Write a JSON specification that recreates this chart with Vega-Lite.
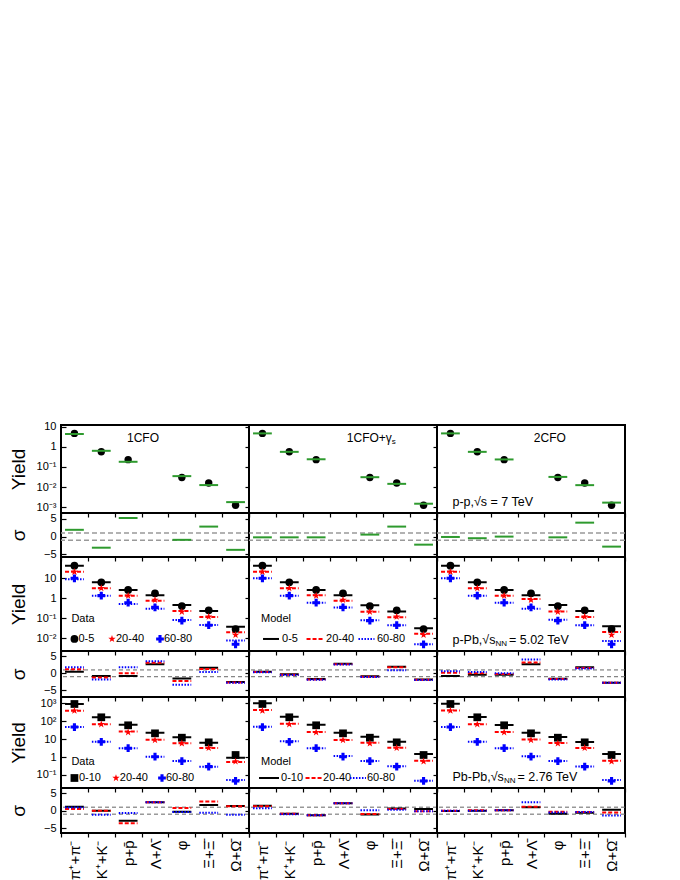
{
  "$schema": "https://vega.github.io/schema/vega-lite/v6.json",
  "padding": {"left": 8, "top": 419, "right": 5, "bottom": 5},
  "background": "white",
  "datasets": {
    "ppd": [
      {"p": "π⁺+π⁻", "y": 4.6}, {"p": "K⁺+K⁻", "y": 0.57}, {"p": "p+p̄", "y": 0.23},
      {"p": "φ", "y": 0.030}, {"p": "Ξ+Ξ̄", "y": 0.016}, {"p": "Ω+Ω̄", "y": 0.00125}
    ],
    "ppm": [
      {"m": "1CFO", "p": "π⁺+π⁻", "y": 4.3, "s": 1.9}, {"m": "1CFO", "p": "K⁺+K⁻", "y": 0.63, "s": -3.1},
      {"m": "1CFO", "p": "p+p̄", "y": 0.18, "s": 5.2}, {"m": "1CFO", "p": "φ", "y": 0.035, "s": -0.9},
      {"m": "1CFO", "p": "Ξ+Ξ̄", "y": 0.0126, "s": 2.8}, {"m": "1CFO", "p": "Ω+Ω̄", "y": 0.0018, "s": -3.7},
      {"m": "1CFOg", "p": "π⁺+π⁻", "y": 4.6, "s": -0.2}, {"m": "1CFOg", "p": "K⁺+K⁻", "y": 0.56, "s": -0.2},
      {"m": "1CFOg", "p": "p+p̄", "y": 0.24, "s": -0.2}, {"m": "1CFOg", "p": "φ", "y": 0.031, "s": 0.56},
      {"m": "1CFOg", "p": "Ξ+Ξ̄", "y": 0.0145, "s": 2.8}, {"m": "1CFOg", "p": "Ω+Ω̄", "y": 0.0015, "s": -2.25},
      {"m": "2CFO", "p": "π⁺+π⁻", "y": 4.6, "s": -0.1}, {"m": "2CFO", "p": "K⁺+K⁻", "y": 0.56, "s": -0.45},
      {"m": "2CFO", "p": "p+p̄", "y": 0.235, "s": 0}, {"m": "2CFO", "p": "φ", "y": 0.032, "s": -0.2},
      {"m": "2CFO", "p": "Ξ+Ξ̄", "y": 0.0125, "s": 3.9}, {"m": "2CFO", "p": "Ω+Ω̄", "y": 0.0017, "s": -2.8}
    ],
    "ppbd": [
      {"p": "π⁺+π⁻", "c": "0-5", "y": 42.7}, {"p": "π⁺+π⁻", "c": "20-40", "y": 21}, {"p": "π⁺+π⁻", "c": "60-80", "y": 10},
      {"p": "K⁺+K⁻", "c": "0-5", "y": 6.3}, {"p": "K⁺+K⁻", "c": "20-40", "y": 3.2}, {"p": "K⁺+K⁻", "c": "60-80", "y": 1.35},
      {"p": "p+p̄", "c": "0-5", "y": 2.6}, {"p": "p+p̄", "c": "20-40", "y": 1.35}, {"p": "p+p̄", "c": "60-80", "y": 0.6},
      {"p": "Λ+Λ̄", "c": "0-5", "y": 1.78}, {"p": "Λ+Λ̄", "c": "20-40", "y": 0.82}, {"p": "Λ+Λ̄", "c": "60-80", "y": 0.35},
      {"p": "φ", "c": "0-5", "y": 0.41}, {"p": "φ", "c": "20-40", "y": 0.21}, {"p": "φ", "c": "60-80", "y": 0.076},
      {"p": "Ξ+Ξ̄", "c": "0-5", "y": 0.25}, {"p": "Ξ+Ξ̄", "c": "20-40", "y": 0.12}, {"p": "Ξ+Ξ̄", "c": "60-80", "y": 0.045},
      {"p": "Ω+Ω̄", "c": "0-5", "y": 0.029}, {"p": "Ω+Ω̄", "c": "20-40", "y": 0.0146}, {"p": "Ω+Ω̄", "c": "60-80", "y": 0.005}
    ],
    "ppbm": [
      {"m": "1CFO", "p": "π⁺+π⁻", "c": "0-5", "y": 42.7, "s": 0.47}, {"m": "1CFO", "p": "π⁺+π⁻", "c": "20-40", "y": 21, "s": 1.2}, {"m": "1CFO", "p": "π⁺+π⁻", "c": "60-80", "y": 8.9, "s": 1.8},
      {"m": "1CFO", "p": "K⁺+K⁻", "c": "0-5", "y": 6.3, "s": -0.8}, {"m": "1CFO", "p": "K⁺+K⁻", "c": "20-40", "y": 3.2, "s": -1.2}, {"m": "1CFO", "p": "K⁺+K⁻", "c": "60-80", "y": 1.35, "s": -1.8},
      {"m": "1CFO", "p": "p+p̄", "c": "0-5", "y": 2.6, "s": -0.8}, {"m": "1CFO", "p": "p+p̄", "c": "20-40", "y": 1.35, "s": 0}, {"m": "1CFO", "p": "p+p̄", "c": "60-80", "y": 0.52, "s": 1.8},
      {"m": "1CFO", "p": "Λ+Λ̄", "c": "0-5", "y": 1.41, "s": 2.7}, {"m": "1CFO", "p": "Λ+Λ̄", "c": "20-40", "y": 0.76, "s": 3.1}, {"m": "1CFO", "p": "Λ+Λ̄", "c": "60-80", "y": 0.30, "s": 3.6},
      {"m": "1CFO", "p": "φ", "c": "0-5", "y": 0.46, "s": -1.5}, {"m": "1CFO", "p": "φ", "c": "20-40", "y": 0.23, "s": -2.3}, {"m": "1CFO", "p": "φ", "c": "60-80", "y": 0.082, "s": -3.4},
      {"m": "1CFO", "p": "Ξ+Ξ̄", "c": "0-5", "y": 0.23, "s": 1.65}, {"m": "1CFO", "p": "Ξ+Ξ̄", "c": "20-40", "y": 0.116, "s": 1.3}, {"m": "1CFO", "p": "Ξ+Ξ̄", "c": "60-80", "y": 0.046, "s": 0.4},
      {"m": "1CFO", "p": "Ω+Ω̄", "c": "0-5", "y": 0.038, "s": -2.6}, {"m": "1CFO", "p": "Ω+Ω̄", "c": "20-40", "y": 0.02, "s": -2.7}, {"m": "1CFO", "p": "Ω+Ω̄", "c": "60-80", "y": 0.0076, "s": -2.8},
      {"m": "1CFOg", "p": "π⁺+π⁻", "c": "0-5", "y": 42.7, "s": 0.5}, {"m": "1CFOg", "p": "π⁺+π⁻", "c": "20-40", "y": 21, "s": 0.4}, {"m": "1CFOg", "p": "π⁺+π⁻", "c": "60-80", "y": 10, "s": 0.3},
      {"m": "1CFOg", "p": "K⁺+K⁻", "c": "0-5", "y": 6.3, "s": -0.3}, {"m": "1CFOg", "p": "K⁺+K⁻", "c": "20-40", "y": 3.2, "s": -0.4}, {"m": "1CFOg", "p": "K⁺+K⁻", "c": "60-80", "y": 1.35, "s": -0.5},
      {"m": "1CFOg", "p": "p+p̄", "c": "0-5", "y": 2.6, "s": -1.7}, {"m": "1CFOg", "p": "p+p̄", "c": "20-40", "y": 1.41, "s": -1.8}, {"m": "1CFOg", "p": "p+p̄", "c": "60-80", "y": 0.6, "s": -1.9},
      {"m": "1CFOg", "p": "Λ+Λ̄", "c": "0-5", "y": 1.41, "s": 2.8}, {"m": "1CFOg", "p": "Λ+Λ̄", "c": "20-40", "y": 0.76, "s": 2.7}, {"m": "1CFOg", "p": "Λ+Λ̄", "c": "60-80", "y": 0.35, "s": 2.6},
      {"m": "1CFOg", "p": "φ", "c": "0-5", "y": 0.45, "s": -0.9}, {"m": "1CFOg", "p": "φ", "c": "20-40", "y": 0.21, "s": -1.0}, {"m": "1CFOg", "p": "φ", "c": "60-80", "y": 0.079, "s": -1.1},
      {"m": "1CFOg", "p": "Ξ+Ξ̄", "c": "0-5", "y": 0.22, "s": 1.95}, {"m": "1CFOg", "p": "Ξ+Ξ̄", "c": "20-40", "y": 0.112, "s": 1.8}, {"m": "1CFOg", "p": "Ξ+Ξ̄", "c": "60-80", "y": 0.045, "s": 0.9},
      {"m": "1CFOg", "p": "Ω+Ω̄", "c": "0-5", "y": 0.032, "s": -1.8}, {"m": "1CFOg", "p": "Ω+Ω̄", "c": "20-40", "y": 0.017, "s": -1.9}, {"m": "1CFOg", "p": "Ω+Ω̄", "c": "60-80", "y": 0.005, "s": -2.0},
      {"m": "2CFO", "p": "π⁺+π⁻", "c": "0-5", "y": 42.7, "s": -0.8}, {"m": "2CFO", "p": "π⁺+π⁻", "c": "20-40", "y": 21, "s": 0.2}, {"m": "2CFO", "p": "π⁺+π⁻", "c": "60-80", "y": 10, "s": 0.6},
      {"m": "2CFO", "p": "K⁺+K⁻", "c": "0-5", "y": 6.3, "s": -0.4}, {"m": "2CFO", "p": "K⁺+K⁻", "c": "20-40", "y": 3.2, "s": 0}, {"m": "2CFO", "p": "K⁺+K⁻", "c": "60-80", "y": 1.35, "s": 0.4},
      {"m": "2CFO", "p": "p+p̄", "c": "0-5", "y": 2.6, "s": -0.4}, {"m": "2CFO", "p": "p+p̄", "c": "20-40", "y": 1.35, "s": -0.2}, {"m": "2CFO", "p": "p+p̄", "c": "60-80", "y": 0.6, "s": 0},
      {"m": "2CFO", "p": "Λ+Λ̄", "c": "0-5", "y": 1.41, "s": 2.7}, {"m": "2CFO", "p": "Λ+Λ̄", "c": "20-40", "y": 0.92, "s": 3.2}, {"m": "2CFO", "p": "Λ+Λ̄", "c": "60-80", "y": 0.30, "s": 4.1},
      {"m": "2CFO", "p": "φ", "c": "0-5", "y": 0.46, "s": -1.6}, {"m": "2CFO", "p": "φ", "c": "20-40", "y": 0.22, "s": -1.7}, {"m": "2CFO", "p": "φ", "c": "60-80", "y": 0.085, "s": -1.8},
      {"m": "2CFO", "p": "Ξ+Ξ̄", "c": "0-5", "y": 0.23, "s": 1.8}, {"m": "2CFO", "p": "Ξ+Ξ̄", "c": "20-40", "y": 0.116, "s": 1.6}, {"m": "2CFO", "p": "Ξ+Ξ̄", "c": "60-80", "y": 0.045, "s": 1.4},
      {"m": "2CFO", "p": "Ω+Ω̄", "c": "0-5", "y": 0.04, "s": -2.8}, {"m": "2CFO", "p": "Ω+Ω̄", "c": "20-40", "y": 0.0207, "s": -2.8}, {"m": "2CFO", "p": "Ω+Ω̄", "c": "60-80", "y": 0.0073, "s": -2.8}
    ],
    "pbd": [
      {"p": "π⁺+π⁻", "c": "0-10", "y": 912}, {"p": "π⁺+π⁻", "c": "20-40", "y": 388}, {"p": "π⁺+π⁻", "c": "60-80", "y": 47},
      {"p": "K⁺+K⁻", "c": "0-10", "y": 165}, {"p": "K⁺+K⁻", "c": "20-40", "y": 67}, {"p": "K⁺+K⁻", "c": "60-80", "y": 7.1},
      {"p": "p+p̄", "c": "0-10", "y": 59}, {"p": "p+p̄", "c": "20-40", "y": 24}, {"p": "p+p̄", "c": "60-80", "y": 3.1},
      {"p": "Λ+Λ̄", "c": "0-10", "y": 21}, {"p": "Λ+Λ̄", "c": "20-40", "y": 8.9}, {"p": "Λ+Λ̄", "c": "60-80", "y": 1.04},
      {"p": "φ", "c": "0-10", "y": 12}, {"p": "φ", "c": "20-40", "y": 5.8}, {"p": "φ", "c": "60-80", "y": 0.6},
      {"p": "Ξ+Ξ̄", "c": "0-10", "y": 6.6}, {"p": "Ξ+Ξ̄", "c": "20-40", "y": 3.2}, {"p": "Ξ+Ξ̄", "c": "60-80", "y": 0.29},
      {"p": "Ω+Ω̄", "c": "0-10", "y": 1.3}, {"p": "Ω+Ω̄", "c": "20-40", "y": 0.57}, {"p": "Ω+Ω̄", "c": "60-80", "y": 0.046}
    ],
    "pbm": [
      {"m": "1CFO", "p": "π⁺+π⁻", "c": "0-10", "y": 912, "s": 1.1}, {"m": "1CFO", "p": "π⁺+π⁻", "c": "20-40", "y": 388, "s": 0.5}, {"m": "1CFO", "p": "π⁺+π⁻", "c": "60-80", "y": 47, "s": 0.9},
      {"m": "1CFO", "p": "K⁺+K⁻", "c": "0-10", "y": 165, "s": 0}, {"m": "1CFO", "p": "K⁺+K⁻", "c": "20-40", "y": 67, "s": 0}, {"m": "1CFO", "p": "K⁺+K⁻", "c": "60-80", "y": 7.1, "s": -1.2},
      {"m": "1CFO", "p": "p+p̄", "c": "0-10", "y": 64, "s": -2.9}, {"m": "1CFO", "p": "p+p̄", "c": "20-40", "y": 27, "s": -3.6}, {"m": "1CFO", "p": "p+p̄", "c": "60-80", "y": 3.1, "s": -0.7},
      {"m": "1CFO", "p": "Λ+Λ̄", "c": "0-10", "y": 23, "s": 2.4}, {"m": "1CFO", "p": "Λ+Λ̄", "c": "20-40", "y": 9.3, "s": 2.4}, {"m": "1CFO", "p": "Λ+Λ̄", "c": "60-80", "y": 1.04, "s": 2.4},
      {"m": "1CFO", "p": "φ", "c": "0-10", "y": 12.6, "s": -0.3}, {"m": "1CFO", "p": "φ", "c": "20-40", "y": 5.8, "s": 0.8}, {"m": "1CFO", "p": "φ", "c": "60-80", "y": 0.6, "s": -0.4},
      {"m": "1CFO", "p": "Ξ+Ξ̄", "c": "0-10", "y": 6.3, "s": 1.6}, {"m": "1CFO", "p": "Ξ+Ξ̄", "c": "20-40", "y": 3.2, "s": 2.6}, {"m": "1CFO", "p": "Ξ+Ξ̄", "c": "60-80", "y": 0.29, "s": -0.6},
      {"m": "1CFO", "p": "Ω+Ω̄", "c": "0-10", "y": 0.91, "s": 1.35}, {"m": "1CFO", "p": "Ω+Ω̄", "c": "20-40", "y": 0.52, "s": 1.3}, {"m": "1CFO", "p": "Ω+Ω̄", "c": "60-80", "y": 0.052, "s": -1.2},
      {"m": "1CFOg", "p": "π⁺+π⁻", "c": "0-10", "y": 1000, "s": 1.4}, {"m": "1CFOg", "p": "π⁺+π⁻", "c": "20-40", "y": 423, "s": 1.3}, {"m": "1CFOg", "p": "π⁺+π⁻", "c": "60-80", "y": 49, "s": 0.7},
      {"m": "1CFOg", "p": "K⁺+K⁻", "c": "0-10", "y": 178, "s": -0.9}, {"m": "1CFOg", "p": "K⁺+K⁻", "c": "20-40", "y": 72, "s": -0.9}, {"m": "1CFOg", "p": "K⁺+K⁻", "c": "60-80", "y": 7.6, "s": -1.0},
      {"m": "1CFOg", "p": "p+p̄", "c": "0-10", "y": 64, "s": -1.3}, {"m": "1CFOg", "p": "p+p̄", "c": "20-40", "y": 25, "s": -1.3}, {"m": "1CFOg", "p": "p+p̄", "c": "60-80", "y": 3.1, "s": -1.3},
      {"m": "1CFOg", "p": "Λ+Λ̄", "c": "0-10", "y": 23, "s": 2.1}, {"m": "1CFOg", "p": "Λ+Λ̄", "c": "20-40", "y": 8.9, "s": 2.1}, {"m": "1CFOg", "p": "Λ+Λ̄", "c": "60-80", "y": 1.14, "s": 2.1},
      {"m": "1CFOg", "p": "φ", "c": "0-10", "y": 13.5, "s": -1.1}, {"m": "1CFOg", "p": "φ", "c": "20-40", "y": 6.3, "s": -0.95}, {"m": "1CFOg", "p": "φ", "c": "60-80", "y": 0.6, "s": 0.1},
      {"m": "1CFOg", "p": "Ξ+Ξ̄", "c": "0-10", "y": 7.2, "s": 0.6}, {"m": "1CFOg", "p": "Ξ+Ξ̄", "c": "20-40", "y": 3.3, "s": 0.5}, {"m": "1CFOg", "p": "Ξ+Ξ̄", "c": "60-80", "y": 0.31, "s": 0.3},
      {"m": "1CFOg", "p": "Ω+Ω̄", "c": "0-10", "y": 1.47, "s": 0.5}, {"m": "1CFOg", "p": "Ω+Ω̄", "c": "20-40", "y": 0.63, "s": -0.2}, {"m": "1CFOg", "p": "Ω+Ω̄", "c": "60-80", "y": 0.048, "s": -0.2},
      {"m": "2CFO", "p": "π⁺+π⁻", "c": "0-10", "y": 950, "s": -0.1}, {"m": "2CFO", "p": "π⁺+π⁻", "c": "20-40", "y": 400, "s": 0}, {"m": "2CFO", "p": "π⁺+π⁻", "c": "60-80", "y": 48, "s": 0},
      {"m": "2CFO", "p": "K⁺+K⁻", "c": "0-10", "y": 170, "s": 0}, {"m": "2CFO", "p": "K⁺+K⁻", "c": "20-40", "y": 68, "s": 0.1}, {"m": "2CFO", "p": "K⁺+K⁻", "c": "60-80", "y": 7.2, "s": 0},
      {"m": "2CFO", "p": "p+p̄", "c": "0-10", "y": 62, "s": 0.1}, {"m": "2CFO", "p": "p+p̄", "c": "20-40", "y": 25, "s": 0.1}, {"m": "2CFO", "p": "p+p̄", "c": "60-80", "y": 3.1, "s": 0.1},
      {"m": "2CFO", "p": "Λ+Λ̄", "c": "0-10", "y": 23, "s": 1.0}, {"m": "2CFO", "p": "Λ+Λ̄", "c": "20-40", "y": 9.5, "s": 1.1}, {"m": "2CFO", "p": "Λ+Λ̄", "c": "60-80", "y": 1.1, "s": 2.4},
      {"m": "2CFO", "p": "φ", "c": "0-10", "y": 13, "s": -0.9}, {"m": "2CFO", "p": "φ", "c": "20-40", "y": 6, "s": -0.3}, {"m": "2CFO", "p": "φ", "c": "60-80", "y": 0.6, "s": -0.5},
      {"m": "2CFO", "p": "Ξ+Ξ̄", "c": "0-10", "y": 6.9, "s": -0.6}, {"m": "2CFO", "p": "Ξ+Ξ̄", "c": "20-40", "y": 3.2, "s": -0.4}, {"m": "2CFO", "p": "Ξ+Ξ̄", "c": "60-80", "y": 0.3, "s": -0.4},
      {"m": "2CFO", "p": "Ω+Ω̄", "c": "0-10", "y": 1.47, "s": 0.3}, {"m": "2CFO", "p": "Ω+Ω̄", "c": "20-40", "y": 0.63, "s": -0.5}, {"m": "2CFO", "p": "Ω+Ω̄", "c": "60-80", "y": 0.052, "s": -1.4}
    ]
  },
  "columns": 3,
  "spacing": 0,
  "bounds": "flush",
  "align": "each",
  "resolve": {
    "scale": {"x": "independent", "y": "independent", "fill": "independent", "shape": "independent", "stroke": "independent", "strokeDash": "independent"},
    "axis": {"x": "independent", "y": "independent"}
  },
  "concat": [
    {
      "width": 188, "height": 88,
      "layer": [
        {"data": {"name": "ppd"}, "mark": {"type": "point", "filled": true, "color": "black", "size": 55, "opacity": 1},
         "encoding": {
           "x": {"field": "p", "type": "nominal", "scale": {"domain": ["π⁺+π⁻","K⁺+K⁻","p+p̄","Λ+Λ̄","φ","Ξ+Ξ̄","Ω+Ω̄"], "paddingInner": 0, "paddingOuter": 0}, "axis": {"title": null, "labels": false}},
           "y": {"field": "y", "type": "quantitative", "scale": {"type": "log", "domain": [0.00052, 12], "nice": false}, "axis": {"title": "Yield", "tickSize": -5, "labelPadding": 10, "values": [0.001, 0.01, 0.1, 1, 10], "labelExpr": "datum.value>=999?'10³':datum.value>=99?'10²':datum.value>=9?'10':datum.value>=0.9?'1':datum.value>=0.09?'10⁻¹':datum.value>=0.009?'10⁻²':'10⁻³'"}}}},
        {"data": {"name": "ppm"}, "transform": [{"filter": "datum.m==='1CFO'"}], "mark": {"type": "rule", "color": "#2e9a2e", "strokeWidth": 2},
         "encoding": {
           "x": {"field": "p", "type": "nominal", "bandPosition": 0.15, "scale": {"domain": ["π⁺+π⁻","K⁺+K⁻","p+p̄","Λ+Λ̄","φ","Ξ+Ξ̄","Ω+Ω̄"], "paddingInner": 0, "paddingOuter": 0}, "axis": {"title": null, "labels": false}},
           "x2": {"field": "p", "bandPosition": 0.85},
           "y": {"field": "y", "type": "quantitative", "scale": {"type": "log", "domain": [0.00052, 12], "nice": false}, "axis": {"title": "Yield", "tickSize": -5, "labelPadding": 10, "values": [0.001, 0.01, 0.1, 1, 10], "labelExpr": "datum.value>=999?'10³':datum.value>=99?'10²':datum.value>=9?'10':datum.value>=0.9?'1':datum.value>=0.09?'10⁻¹':datum.value>=0.009?'10⁻²':'10⁻³'"}}}},
        {"data": {"values": [{}]}, "mark": {"type": "text", "text": "1CFO", "align": "left", "baseline": "middle", "fontSize": 12, "dx": -28},
         "encoding": {
           "x": {"datum": "Λ+Λ̄", "type": "nominal", "scale": {"domain": ["π⁺+π⁻","K⁺+K⁻","p+p̄","Λ+Λ̄","φ","Ξ+Ξ̄","Ω+Ω̄"], "paddingInner": 0, "paddingOuter": 0}, "axis": {"title": null, "labels": false}},
           "y": {"datum": 2.6, "type": "quantitative", "scale": {"type": "log", "domain": [0.00052, 12], "nice": false}, "axis": {"title": "Yield", "tickSize": -5, "labelPadding": 10, "values": [0.001, 0.01, 0.1, 1, 10], "labelExpr": "datum.value>=999?'10³':datum.value>=99?'10²':datum.value>=9?'10':datum.value>=0.9?'1':datum.value>=0.09?'10⁻¹':datum.value>=0.009?'10⁻²':'10⁻³'"}}}}
      ]
    },
    {
      "width": 188, "height": 88,
      "layer": [
        {"data": {"name": "ppd"}, "mark": {"type": "point", "filled": true, "color": "black", "size": 55, "opacity": 1},
         "encoding": {
           "x": {"field": "p", "type": "nominal", "scale": {"domain": ["π⁺+π⁻","K⁺+K⁻","p+p̄","Λ+Λ̄","φ","Ξ+Ξ̄","Ω+Ω̄"], "paddingInner": 0, "paddingOuter": 0}, "axis": {"title": null, "labels": false}},
           "y": {"field": "y", "type": "quantitative", "scale": {"type": "log", "domain": [0.00052, 12], "nice": false}, "axis": {"title": null, "labels": false, "values": [0.001, 0.01, 0.1, 1, 10]}}}},
        {"data": {"name": "ppm"}, "transform": [{"filter": "datum.m==='1CFOg'"}], "mark": {"type": "rule", "color": "#2e9a2e", "strokeWidth": 2},
         "encoding": {
           "x": {"field": "p", "type": "nominal", "bandPosition": 0.15, "scale": {"domain": ["π⁺+π⁻","K⁺+K⁻","p+p̄","Λ+Λ̄","φ","Ξ+Ξ̄","Ω+Ω̄"], "paddingInner": 0, "paddingOuter": 0}, "axis": {"title": null, "labels": false}},
           "x2": {"field": "p", "bandPosition": 0.85},
           "y": {"field": "y", "type": "quantitative", "scale": {"type": "log", "domain": [0.00052, 12], "nice": false}, "axis": {"title": null, "labels": false, "values": [0.001, 0.01, 0.1, 1, 10]}}}},
        {"data": {"values": [{}]}, "mark": {"type": "text", "text": "1CFO+γ", "align": "left", "baseline": "middle", "fontSize": 12, "dx": -23},
         "encoding": {
           "x": {"datum": "φ", "type": "nominal", "scale": {"domain": ["π⁺+π⁻","K⁺+K⁻","p+p̄","Λ+Λ̄","φ","Ξ+Ξ̄","Ω+Ω̄"], "paddingInner": 0, "paddingOuter": 0}, "axis": {"title": null, "labels": false}},
           "y": {"datum": 2.6, "type": "quantitative", "scale": {"type": "log", "domain": [0.00052, 12], "nice": false}, "axis": {"title": null, "labels": false, "values": [0.001, 0.01, 0.1, 1, 10]}}}},
        {"data": {"values": [{}]}, "mark": {"type": "text", "text": "s", "align": "left", "baseline": "middle", "fontSize": 8, "dx": 22, "dy": 4},
         "encoding": {
           "x": {"datum": "φ", "type": "nominal", "scale": {"domain": ["π⁺+π⁻","K⁺+K⁻","p+p̄","Λ+Λ̄","φ","Ξ+Ξ̄","Ω+Ω̄"], "paddingInner": 0, "paddingOuter": 0}, "axis": {"title": null, "labels": false}},
           "y": {"datum": 2.6, "type": "quantitative", "scale": {"type": "log", "domain": [0.00052, 12], "nice": false}, "axis": {"title": null, "labels": false, "values": [0.001, 0.01, 0.1, 1, 10]}}}}
      ]
    },
    {
      "width": 188, "height": 88,
      "layer": [
        {"data": {"name": "ppd"}, "mark": {"type": "point", "filled": true, "color": "black", "size": 55, "opacity": 1},
         "encoding": {
           "x": {"field": "p", "type": "nominal", "scale": {"domain": ["π⁺+π⁻","K⁺+K⁻","p+p̄","Λ+Λ̄","φ","Ξ+Ξ̄","Ω+Ω̄"], "paddingInner": 0, "paddingOuter": 0}, "axis": {"title": null, "labels": false}},
           "y": {"field": "y", "type": "quantitative", "scale": {"type": "log", "domain": [0.00052, 12], "nice": false}, "axis": {"title": null, "labels": false, "values": [0.001, 0.01, 0.1, 1, 10]}}}},
        {"data": {"name": "ppm"}, "transform": [{"filter": "datum.m==='2CFO'"}], "mark": {"type": "rule", "color": "#2e9a2e", "strokeWidth": 2},
         "encoding": {
           "x": {"field": "p", "type": "nominal", "bandPosition": 0.15, "scale": {"domain": ["π⁺+π⁻","K⁺+K⁻","p+p̄","Λ+Λ̄","φ","Ξ+Ξ̄","Ω+Ω̄"], "paddingInner": 0, "paddingOuter": 0}, "axis": {"title": null, "labels": false}},
           "x2": {"field": "p", "bandPosition": 0.85},
           "y": {"field": "y", "type": "quantitative", "scale": {"type": "log", "domain": [0.00052, 12], "nice": false}, "axis": {"title": null, "labels": false, "values": [0.001, 0.01, 0.1, 1, 10]}}}},
        {"data": {"values": [{}]}, "mark": {"type": "text", "text": "2CFO", "align": "left", "baseline": "middle", "fontSize": 12, "dx": -24},
         "encoding": {
           "x": {"datum": "φ", "type": "nominal", "scale": {"domain": ["π⁺+π⁻","K⁺+K⁻","p+p̄","Λ+Λ̄","φ","Ξ+Ξ̄","Ω+Ω̄"], "paddingInner": 0, "paddingOuter": 0}, "axis": {"title": null, "labels": false}},
           "y": {"datum": 2.6, "type": "quantitative", "scale": {"type": "log", "domain": [0.00052, 12], "nice": false}, "axis": {"title": null, "labels": false, "values": [0.001, 0.01, 0.1, 1, 10]}}}},
        {"data": {"values": [{}]}, "mark": {"type": "text", "text": "p-p,√s = 7 TeV", "align": "left", "baseline": "middle", "fontSize": 12.5, "dx": 2},
         "encoding": {
           "x": {"datum": "π⁺+π⁻", "type": "nominal", "scale": {"domain": ["π⁺+π⁻","K⁺+K⁻","p+p̄","Λ+Λ̄","φ","Ξ+Ξ̄","Ω+Ω̄"], "paddingInner": 0, "paddingOuter": 0}, "axis": {"title": null, "labels": false}},
           "y": {"datum": 0.0018, "type": "quantitative", "scale": {"type": "log", "domain": [0.00052, 12], "nice": false}, "axis": {"title": null, "labels": false, "values": [0.001, 0.01, 0.1, 1, 10]}}}}
      ]
    },
    {
      "width": 188, "height": 44,
      "layer": [
        {"data": {"values": [{"v": 1}, {"v": -1}]}, "mark": {"type": "rule", "color": "#999999", "strokeDash": [5, 3], "strokeWidth": 1.5},
         "encoding": {"y": {"field": "v", "type": "quantitative", "scale": {"domain": [-5.7, 6.6], "nice": false, "zero": false}, "axis": {"title": "σ", "tickSize": -5, "labelPadding": 10, "values": [-5, 0, 5]}}}},
        {"data": {"name": "ppm"}, "transform": [{"filter": "datum.m==='1CFO'"}], "mark": {"type": "rule", "color": "#2e9a2e", "strokeWidth": 2},
         "encoding": {
           "x": {"field": "p", "type": "nominal", "bandPosition": 0.15, "scale": {"domain": ["π⁺+π⁻","K⁺+K⁻","p+p̄","Λ+Λ̄","φ","Ξ+Ξ̄","Ω+Ω̄"], "paddingInner": 0, "paddingOuter": 0}, "axis": {"title": null, "labels": false}},
           "x2": {"field": "p", "bandPosition": 0.85},
           "y": {"field": "s", "type": "quantitative", "scale": {"domain": [-5.7, 6.6], "nice": false, "zero": false}, "axis": {"title": "σ", "tickSize": -5, "labelPadding": 10, "values": [-5, 0, 5]}}}}
      ]
    },
    {
      "width": 188, "height": 44,
      "layer": [
        {"data": {"values": [{"v": 1}, {"v": -1}]}, "mark": {"type": "rule", "color": "#999999", "strokeDash": [5, 3], "strokeWidth": 1.5},
         "encoding": {"y": {"field": "v", "type": "quantitative", "scale": {"domain": [-5.7, 6.6], "nice": false, "zero": false}, "axis": {"title": null, "labels": false, "values": [-5, 0, 5]}}}},
        {"data": {"name": "ppm"}, "transform": [{"filter": "datum.m==='1CFOg'"}], "mark": {"type": "rule", "color": "#2e9a2e", "strokeWidth": 2},
         "encoding": {
           "x": {"field": "p", "type": "nominal", "bandPosition": 0.15, "scale": {"domain": ["π⁺+π⁻","K⁺+K⁻","p+p̄","Λ+Λ̄","φ","Ξ+Ξ̄","Ω+Ω̄"], "paddingInner": 0, "paddingOuter": 0}, "axis": {"title": null, "labels": false}},
           "x2": {"field": "p", "bandPosition": 0.85},
           "y": {"field": "s", "type": "quantitative", "scale": {"domain": [-5.7, 6.6], "nice": false, "zero": false}, "axis": {"title": null, "labels": false, "values": [-5, 0, 5]}}}}
      ]
    },
    {
      "width": 188, "height": 44,
      "layer": [
        {"data": {"values": [{"v": 1}, {"v": -1}]}, "mark": {"type": "rule", "color": "#999999", "strokeDash": [5, 3], "strokeWidth": 1.5},
         "encoding": {"y": {"field": "v", "type": "quantitative", "scale": {"domain": [-5.7, 6.6], "nice": false, "zero": false}, "axis": {"title": null, "labels": false, "values": [-5, 0, 5]}}}},
        {"data": {"name": "ppm"}, "transform": [{"filter": "datum.m==='2CFO'"}], "mark": {"type": "rule", "color": "#2e9a2e", "strokeWidth": 2},
         "encoding": {
           "x": {"field": "p", "type": "nominal", "bandPosition": 0.15, "scale": {"domain": ["π⁺+π⁻","K⁺+K⁻","p+p̄","Λ+Λ̄","φ","Ξ+Ξ̄","Ω+Ω̄"], "paddingInner": 0, "paddingOuter": 0}, "axis": {"title": null, "labels": false}},
           "x2": {"field": "p", "bandPosition": 0.85},
           "y": {"field": "s", "type": "quantitative", "scale": {"domain": [-5.7, 6.6], "nice": false, "zero": false}, "axis": {"title": null, "labels": false, "values": [-5, 0, 5]}}}}
      ]
    },
    {
      "width": 188, "height": 94,
      "layer": [
        {"data": {"name": "ppbm"}, "transform": [{"filter": "datum.m==='1CFO'"}], "mark": {"type": "rule", "strokeWidth": 2},
         "encoding": {
           "x": {"field": "p", "type": "nominal", "bandPosition": 0.15, "scale": {"domain": ["π⁺+π⁻","K⁺+K⁻","p+p̄","Λ+Λ̄","φ","Ξ+Ξ̄","Ω+Ω̄"], "paddingInner": 0, "paddingOuter": 0}, "axis": {"title": null, "labels": false}},
           "x2": {"field": "p", "bandPosition": 0.85},
           "y": {"field": "y", "type": "quantitative", "scale": {"type": "log", "domain": [0.0023, 116], "nice": false}, "axis": {"title": "Yield", "tickSize": -5, "labelPadding": 10, "values": [0.01, 0.1, 1, 10], "labelExpr": "datum.value>=999?'10³':datum.value>=99?'10²':datum.value>=9?'10':datum.value>=0.9?'1':datum.value>=0.09?'10⁻¹':datum.value>=0.009?'10⁻²':'10⁻³'"}},
           "stroke": {"field": "c", "type": "nominal", "scale": {"domain": ["0-5", "20-40", "60-80"], "range": ["black", "#ff0000", "#0000ff"]}, "legend": null},
           "strokeDash": {"field": "c", "type": "nominal", "scale": {"domain": ["0-5", "20-40", "60-80"], "range": [[1, 0], [4, 2], [1.5, 1.5]]}, "legend": null}}},
        {"data": {"name": "ppbd"}, "mark": {"type": "point", "filled": true, "size": 60, "opacity": 1, "strokeWidth": 0},
         "encoding": {
           "x": {"field": "p", "type": "nominal", "scale": {"domain": ["π⁺+π⁻","K⁺+K⁻","p+p̄","Λ+Λ̄","φ","Ξ+Ξ̄","Ω+Ω̄"], "paddingInner": 0, "paddingOuter": 0}, "axis": {"title": null, "labels": false}},
           "y": {"field": "y", "type": "quantitative", "scale": {"type": "log", "domain": [0.0023, 116], "nice": false}, "axis": {"title": "Yield", "tickSize": -5, "labelPadding": 10, "values": [0.01, 0.1, 1, 10], "labelExpr": "datum.value>=999?'10³':datum.value>=99?'10²':datum.value>=9?'10':datum.value>=0.9?'1':datum.value>=0.09?'10⁻¹':datum.value>=0.009?'10⁻²':'10⁻³'"}},
           "fill": {"field": "c", "type": "nominal", "scale": {"domain": ["0-5", "20-40", "60-80"], "range": ["black", "#ff0000", "#0000ff"]}, "legend": null},
           "shape": {"field": "c", "type": "nominal", "scale": {"domain": ["0-5", "20-40", "60-80"], "range": ["circle", "M0,-1L0.235,-0.324L0.951,-0.309L0.38,0.124L0.588,0.809L0,0.4L-0.588,0.809L-0.38,0.124L-0.951,-0.309L-0.235,-0.324Z", "cross"]}, "legend": null}}},
        {"data": {"values": [{}]}, "mark": {"type": "text", "text": "Data", "align": "left", "baseline": "middle", "fontSize": 11, "dx": -3},
         "encoding": {
           "x": {"datum": "π⁺+π⁻", "type": "nominal", "scale": {"domain": ["π⁺+π⁻","K⁺+K⁻","p+p̄","Λ+Λ̄","φ","Ξ+Ξ̄","Ω+Ω̄"], "paddingInner": 0, "paddingOuter": 0}, "axis": {"title": null, "labels": false}},
           "y": {"datum": 0.092, "type": "quantitative", "scale": {"type": "log", "domain": [0.0023, 116], "nice": false}, "axis": {"title": "Yield", "tickSize": -5, "labelPadding": 10, "values": [0.01, 0.1, 1, 10], "labelExpr": "datum.value>=999?'10³':datum.value>=99?'10²':datum.value>=9?'10':datum.value>=0.9?'1':datum.value>=0.09?'10⁻¹':datum.value>=0.009?'10⁻²':'10⁻³'"}}}},
        {"data": {"values": [{}]}, "mark": {"type": "point", "shape": "circle", "filled": true, "color": "black", "size": 60, "opacity": 1, "xOffset": 0},
         "encoding": {
           "x": {"datum": "π⁺+π⁻", "type": "nominal", "scale": {"domain": ["π⁺+π⁻","K⁺+K⁻","p+p̄","Λ+Λ̄","φ","Ξ+Ξ̄","Ω+Ω̄"], "paddingInner": 0, "paddingOuter": 0}, "axis": {"title": null, "labels": false}},
           "y": {"datum": 0.0092, "type": "quantitative", "scale": {"type": "log", "domain": [0.0023, 116], "nice": false}, "axis": {"title": "Yield", "tickSize": -5, "labelPadding": 10, "values": [0.01, 0.1, 1, 10], "labelExpr": "datum.value>=999?'10³':datum.value>=99?'10²':datum.value>=9?'10':datum.value>=0.9?'1':datum.value>=0.09?'10⁻¹':datum.value>=0.009?'10⁻²':'10⁻³'"}}}},
        {"data": {"values": [{}]}, "mark": {"type": "text", "text": "0-5", "align": "left", "baseline": "middle", "fontSize": 11, "dx": 4},
         "encoding": {
           "x": {"datum": "π⁺+π⁻", "type": "nominal", "scale": {"domain": ["π⁺+π⁻","K⁺+K⁻","p+p̄","Λ+Λ̄","φ","Ξ+Ξ̄","Ω+Ω̄"], "paddingInner": 0, "paddingOuter": 0}, "axis": {"title": null, "labels": false}},
           "y": {"datum": 0.0092, "type": "quantitative", "scale": {"type": "log", "domain": [0.0023, 116], "nice": false}, "axis": {"title": "Yield", "tickSize": -5, "labelPadding": 10, "values": [0.01, 0.1, 1, 10], "labelExpr": "datum.value>=999?'10³':datum.value>=99?'10²':datum.value>=9?'10':datum.value>=0.9?'1':datum.value>=0.09?'10⁻¹':datum.value>=0.009?'10⁻²':'10⁻³'"}}}},
        {"data": {"values": [{}]}, "mark": {"type": "point", "shape": "M0,-1L0.235,-0.324L0.951,-0.309L0.38,0.124L0.588,0.809L0,0.4L-0.588,0.809L-0.38,0.124L-0.951,-0.309L-0.235,-0.324Z", "filled": true, "color": "#ff0000", "size": 60, "opacity": 1, "xOffset": 10.7},
         "encoding": {
           "x": {"datum": "K⁺+K⁻", "type": "nominal", "scale": {"domain": ["π⁺+π⁻","K⁺+K⁻","p+p̄","Λ+Λ̄","φ","Ξ+Ξ̄","Ω+Ω̄"], "paddingInner": 0, "paddingOuter": 0}, "axis": {"title": null, "labels": false}},
           "y": {"datum": 0.0092, "type": "quantitative", "scale": {"type": "log", "domain": [0.0023, 116], "nice": false}, "axis": {"title": "Yield", "tickSize": -5, "labelPadding": 10, "values": [0.01, 0.1, 1, 10], "labelExpr": "datum.value>=999?'10³':datum.value>=99?'10²':datum.value>=9?'10':datum.value>=0.9?'1':datum.value>=0.09?'10⁻¹':datum.value>=0.009?'10⁻²':'10⁻³'"}}}},
        {"data": {"values": [{}]}, "mark": {"type": "text", "text": "20-40", "align": "left", "baseline": "middle", "fontSize": 11, "dx": 14.7},
         "encoding": {
           "x": {"datum": "K⁺+K⁻", "type": "nominal", "scale": {"domain": ["π⁺+π⁻","K⁺+K⁻","p+p̄","Λ+Λ̄","φ","Ξ+Ξ̄","Ω+Ω̄"], "paddingInner": 0, "paddingOuter": 0}, "axis": {"title": null, "labels": false}},
           "y": {"datum": 0.0092, "type": "quantitative", "scale": {"type": "log", "domain": [0.0023, 116], "nice": false}, "axis": {"title": "Yield", "tickSize": -5, "labelPadding": 10, "values": [0.01, 0.1, 1, 10], "labelExpr": "datum.value>=999?'10³':datum.value>=99?'10²':datum.value>=9?'10':datum.value>=0.9?'1':datum.value>=0.09?'10⁻¹':datum.value>=0.009?'10⁻²':'10⁻³'"}}}},
        {"data": {"values": [{}]}, "mark": {"type": "point", "shape": "cross", "filled": true, "color": "#0000ff", "size": 60, "opacity": 1, "xOffset": 5},
         "encoding": {
           "x": {"datum": "Λ+Λ̄", "type": "nominal", "scale": {"domain": ["π⁺+π⁻","K⁺+K⁻","p+p̄","Λ+Λ̄","φ","Ξ+Ξ̄","Ω+Ω̄"], "paddingInner": 0, "paddingOuter": 0}, "axis": {"title": null, "labels": false}},
           "y": {"datum": 0.0092, "type": "quantitative", "scale": {"type": "log", "domain": [0.0023, 116], "nice": false}, "axis": {"title": "Yield", "tickSize": -5, "labelPadding": 10, "values": [0.01, 0.1, 1, 10], "labelExpr": "datum.value>=999?'10³':datum.value>=99?'10²':datum.value>=9?'10':datum.value>=0.9?'1':datum.value>=0.09?'10⁻¹':datum.value>=0.009?'10⁻²':'10⁻³'"}}}},
        {"data": {"values": [{}]}, "mark": {"type": "text", "text": "60-80", "align": "left", "baseline": "middle", "fontSize": 11, "dx": 9},
         "encoding": {
           "x": {"datum": "Λ+Λ̄", "type": "nominal", "scale": {"domain": ["π⁺+π⁻","K⁺+K⁻","p+p̄","Λ+Λ̄","φ","Ξ+Ξ̄","Ω+Ω̄"], "paddingInner": 0, "paddingOuter": 0}, "axis": {"title": null, "labels": false}},
           "y": {"datum": 0.0092, "type": "quantitative", "scale": {"type": "log", "domain": [0.0023, 116], "nice": false}, "axis": {"title": "Yield", "tickSize": -5, "labelPadding": 10, "values": [0.01, 0.1, 1, 10], "labelExpr": "datum.value>=999?'10³':datum.value>=99?'10²':datum.value>=9?'10':datum.value>=0.9?'1':datum.value>=0.09?'10⁻¹':datum.value>=0.009?'10⁻²':'10⁻³'"}}}}
      ]
    },
    {
      "width": 188, "height": 94,
      "layer": [
        {"data": {"name": "ppbm"}, "transform": [{"filter": "datum.m==='1CFOg'"}], "mark": {"type": "rule", "strokeWidth": 2},
         "encoding": {
           "x": {"field": "p", "type": "nominal", "bandPosition": 0.15, "scale": {"domain": ["π⁺+π⁻","K⁺+K⁻","p+p̄","Λ+Λ̄","φ","Ξ+Ξ̄","Ω+Ω̄"], "paddingInner": 0, "paddingOuter": 0}, "axis": {"title": null, "labels": false}},
           "x2": {"field": "p", "bandPosition": 0.85},
           "y": {"field": "y", "type": "quantitative", "scale": {"type": "log", "domain": [0.0023, 116], "nice": false}, "axis": {"title": null, "labels": false, "values": [0.01, 0.1, 1, 10]}},
           "stroke": {"field": "c", "type": "nominal", "scale": {"domain": ["0-5", "20-40", "60-80"], "range": ["black", "#ff0000", "#0000ff"]}, "legend": null},
           "strokeDash": {"field": "c", "type": "nominal", "scale": {"domain": ["0-5", "20-40", "60-80"], "range": [[1, 0], [4, 2], [1.5, 1.5]]}, "legend": null}}},
        {"data": {"name": "ppbd"}, "mark": {"type": "point", "filled": true, "size": 60, "opacity": 1, "strokeWidth": 0},
         "encoding": {
           "x": {"field": "p", "type": "nominal", "scale": {"domain": ["π⁺+π⁻","K⁺+K⁻","p+p̄","Λ+Λ̄","φ","Ξ+Ξ̄","Ω+Ω̄"], "paddingInner": 0, "paddingOuter": 0}, "axis": {"title": null, "labels": false}},
           "y": {"field": "y", "type": "quantitative", "scale": {"type": "log", "domain": [0.0023, 116], "nice": false}, "axis": {"title": null, "labels": false, "values": [0.01, 0.1, 1, 10]}},
           "fill": {"field": "c", "type": "nominal", "scale": {"domain": ["0-5", "20-40", "60-80"], "range": ["black", "#ff0000", "#0000ff"]}, "legend": null},
           "shape": {"field": "c", "type": "nominal", "scale": {"domain": ["0-5", "20-40", "60-80"], "range": ["circle", "M0,-1L0.235,-0.324L0.951,-0.309L0.38,0.124L0.588,0.809L0,0.4L-0.588,0.809L-0.38,0.124L-0.951,-0.309L-0.235,-0.324Z", "cross"]}, "legend": null}}},
        {"data": {"values": [{}]}, "mark": {"type": "text", "text": "Model", "align": "left", "baseline": "middle", "fontSize": 11, "dx": -1.4},
         "encoding": {
           "x": {"datum": "π⁺+π⁻", "type": "nominal", "scale": {"domain": ["π⁺+π⁻","K⁺+K⁻","p+p̄","Λ+Λ̄","φ","Ξ+Ξ̄","Ω+Ω̄"], "paddingInner": 0, "paddingOuter": 0}, "axis": {"title": null, "labels": false}},
           "y": {"datum": 0.092, "type": "quantitative", "scale": {"type": "log", "domain": [0.0023, 116], "nice": false}, "axis": {"title": null, "labels": false, "values": [0.01, 0.1, 1, 10]}}}},
        {"data": {"values": [{}]}, "mark": {"type": "point", "shape": "stroke", "filled": false, "stroke": "black", "strokeWidth": 2, "size": 256, "opacity": 1, "xOffset": 8.6},
         "encoding": {
           "x": {"datum": "π⁺+π⁻", "type": "nominal", "scale": {"domain": ["π⁺+π⁻","K⁺+K⁻","p+p̄","Λ+Λ̄","φ","Ξ+Ξ̄","Ω+Ω̄"], "paddingInner": 0, "paddingOuter": 0}, "axis": {"title": null, "labels": false}},
           "y": {"datum": 0.0092, "type": "quantitative", "scale": {"type": "log", "domain": [0.0023, 116], "nice": false}, "axis": {"title": null, "labels": false, "values": [0.01, 0.1, 1, 10]}}}},
        {"data": {"values": [{}]}, "mark": {"type": "text", "text": "0-5", "align": "left", "baseline": "middle", "fontSize": 11, "dx": 19.6},
         "encoding": {
           "x": {"datum": "π⁺+π⁻", "type": "nominal", "scale": {"domain": ["π⁺+π⁻","K⁺+K⁻","p+p̄","Λ+Λ̄","φ","Ξ+Ξ̄","Ω+Ω̄"], "paddingInner": 0, "paddingOuter": 0}, "axis": {"title": null, "labels": false}},
           "y": {"datum": 0.0092, "type": "quantitative", "scale": {"type": "log", "domain": [0.0023, 116], "nice": false}, "axis": {"title": null, "labels": false, "values": [0.01, 0.1, 1, 10]}}}},
        {"data": {"values": [{}]}, "mark": {"type": "point", "shape": "stroke", "filled": false, "stroke": "#ff0000", "strokeDash": [4, 2], "strokeWidth": 2, "size": 256, "opacity": 1, "xOffset": -1.6},
         "encoding": {
           "x": {"datum": "p+p̄", "type": "nominal", "scale": {"domain": ["π⁺+π⁻","K⁺+K⁻","p+p̄","Λ+Λ̄","φ","Ξ+Ξ̄","Ω+Ω̄"], "paddingInner": 0, "paddingOuter": 0}, "axis": {"title": null, "labels": false}},
           "y": {"datum": 0.0092, "type": "quantitative", "scale": {"type": "log", "domain": [0.0023, 116], "nice": false}, "axis": {"title": null, "labels": false, "values": [0.01, 0.1, 1, 10]}}}},
        {"data": {"values": [{}]}, "mark": {"type": "text", "text": "20-40", "align": "left", "baseline": "middle", "fontSize": 11, "dx": 9.9},
         "encoding": {
           "x": {"datum": "p+p̄", "type": "nominal", "scale": {"domain": ["π⁺+π⁻","K⁺+K⁻","p+p̄","Λ+Λ̄","φ","Ξ+Ξ̄","Ω+Ω̄"], "paddingInner": 0, "paddingOuter": 0}, "axis": {"title": null, "labels": false}},
           "y": {"datum": 0.0092, "type": "quantitative", "scale": {"type": "log", "domain": [0.0023, 116], "nice": false}, "axis": {"title": null, "labels": false, "values": [0.01, 0.1, 1, 10]}}}},
        {"data": {"values": [{}]}, "mark": {"type": "point", "shape": "stroke", "filled": false, "stroke": "#0000ff", "strokeDash": [1.5, 1.5], "strokeWidth": 2, "size": 256, "opacity": 1, "xOffset": -3.4},
         "encoding": {
           "x": {"datum": "φ", "type": "nominal", "scale": {"domain": ["π⁺+π⁻","K⁺+K⁻","p+p̄","Λ+Λ̄","φ","Ξ+Ξ̄","Ω+Ω̄"], "paddingInner": 0, "paddingOuter": 0}, "axis": {"title": null, "labels": false}},
           "y": {"datum": 0.0092, "type": "quantitative", "scale": {"type": "log", "domain": [0.0023, 116], "nice": false}, "axis": {"title": null, "labels": false, "values": [0.01, 0.1, 1, 10]}}}},
        {"data": {"values": [{}]}, "mark": {"type": "text", "text": "60-80", "align": "left", "baseline": "middle", "fontSize": 11, "dx": 7.1},
         "encoding": {
           "x": {"datum": "φ", "type": "nominal", "scale": {"domain": ["π⁺+π⁻","K⁺+K⁻","p+p̄","Λ+Λ̄","φ","Ξ+Ξ̄","Ω+Ω̄"], "paddingInner": 0, "paddingOuter": 0}, "axis": {"title": null, "labels": false}},
           "y": {"datum": 0.0092, "type": "quantitative", "scale": {"type": "log", "domain": [0.0023, 116], "nice": false}, "axis": {"title": null, "labels": false, "values": [0.01, 0.1, 1, 10]}}}}
      ]
    },
    {
      "width": 188, "height": 94,
      "layer": [
        {"data": {"name": "ppbm"}, "transform": [{"filter": "datum.m==='2CFO'"}], "mark": {"type": "rule", "strokeWidth": 2},
         "encoding": {
           "x": {"field": "p", "type": "nominal", "bandPosition": 0.15, "scale": {"domain": ["π⁺+π⁻","K⁺+K⁻","p+p̄","Λ+Λ̄","φ","Ξ+Ξ̄","Ω+Ω̄"], "paddingInner": 0, "paddingOuter": 0}, "axis": {"title": null, "labels": false}},
           "x2": {"field": "p", "bandPosition": 0.85},
           "y": {"field": "y", "type": "quantitative", "scale": {"type": "log", "domain": [0.0023, 116], "nice": false}, "axis": {"title": null, "labels": false, "values": [0.01, 0.1, 1, 10]}},
           "stroke": {"field": "c", "type": "nominal", "scale": {"domain": ["0-5", "20-40", "60-80"], "range": ["black", "#ff0000", "#0000ff"]}, "legend": null},
           "strokeDash": {"field": "c", "type": "nominal", "scale": {"domain": ["0-5", "20-40", "60-80"], "range": [[1, 0], [4, 2], [1.5, 1.5]]}, "legend": null}}},
        {"data": {"name": "ppbd"}, "mark": {"type": "point", "filled": true, "size": 60, "opacity": 1, "strokeWidth": 0},
         "encoding": {
           "x": {"field": "p", "type": "nominal", "scale": {"domain": ["π⁺+π⁻","K⁺+K⁻","p+p̄","Λ+Λ̄","φ","Ξ+Ξ̄","Ω+Ω̄"], "paddingInner": 0, "paddingOuter": 0}, "axis": {"title": null, "labels": false}},
           "y": {"field": "y", "type": "quantitative", "scale": {"type": "log", "domain": [0.0023, 116], "nice": false}, "axis": {"title": null, "labels": false, "values": [0.01, 0.1, 1, 10]}},
           "fill": {"field": "c", "type": "nominal", "scale": {"domain": ["0-5", "20-40", "60-80"], "range": ["black", "#ff0000", "#0000ff"]}, "legend": null},
           "shape": {"field": "c", "type": "nominal", "scale": {"domain": ["0-5", "20-40", "60-80"], "range": ["circle", "M0,-1L0.235,-0.324L0.951,-0.309L0.38,0.124L0.588,0.809L0,0.4L-0.588,0.809L-0.38,0.124L-0.951,-0.309L-0.235,-0.324Z", "cross"]}, "legend": null}}},
        {"data": {"values": [{}]}, "mark": {"type": "text", "text": "p-Pb,√s", "align": "left", "baseline": "middle", "fontSize": 12.5, "dx": 2},
         "encoding": {
           "x": {"datum": "π⁺+π⁻", "type": "nominal", "scale": {"domain": ["π⁺+π⁻","K⁺+K⁻","p+p̄","Λ+Λ̄","φ","Ξ+Ξ̄","Ω+Ω̄"], "paddingInner": 0, "paddingOuter": 0}, "axis": {"title": null, "labels": false}},
           "y": {"datum": 0.0082, "type": "quantitative", "scale": {"type": "log", "domain": [0.0023, 116], "nice": false}, "axis": {"title": null, "labels": false, "values": [0.01, 0.1, 1, 10]}}}},
        {"data": {"values": [{}]}, "mark": {"type": "text", "text": "NN", "align": "left", "baseline": "middle", "fontSize": 8, "dx": 45, "dy": 4},
         "encoding": {
           "x": {"datum": "π⁺+π⁻", "type": "nominal", "scale": {"domain": ["π⁺+π⁻","K⁺+K⁻","p+p̄","Λ+Λ̄","φ","Ξ+Ξ̄","Ω+Ω̄"], "paddingInner": 0, "paddingOuter": 0}, "axis": {"title": null, "labels": false}},
           "y": {"datum": 0.0082, "type": "quantitative", "scale": {"type": "log", "domain": [0.0023, 116], "nice": false}, "axis": {"title": null, "labels": false, "values": [0.01, 0.1, 1, 10]}}}},
        {"data": {"values": [{}]}, "mark": {"type": "text", "text": " = 5.02 TeV", "align": "left", "baseline": "middle", "fontSize": 12.5, "dx": 58.5},
         "encoding": {
           "x": {"datum": "π⁺+π⁻", "type": "nominal", "scale": {"domain": ["π⁺+π⁻","K⁺+K⁻","p+p̄","Λ+Λ̄","φ","Ξ+Ξ̄","Ω+Ω̄"], "paddingInner": 0, "paddingOuter": 0}, "axis": {"title": null, "labels": false}},
           "y": {"datum": 0.0082, "type": "quantitative", "scale": {"type": "log", "domain": [0.0023, 116], "nice": false}, "axis": {"title": null, "labels": false, "values": [0.01, 0.1, 1, 10]}}}}
      ]
    },
    {
      "width": 188, "height": 46,
      "layer": [
        {"data": {"values": [{"v": 1}, {"v": -1}]}, "mark": {"type": "rule", "color": "#666666", "strokeDash": [4, 3], "strokeWidth": 1},
         "encoding": {"y": {"field": "v", "type": "quantitative", "scale": {"domain": [-7, 6.6], "nice": false, "zero": false}, "axis": {"title": "σ", "tickSize": -5, "labelPadding": 10, "values": [-5, 0, 5]}}}},
        {"data": {"name": "ppbm"}, "transform": [{"filter": "datum.m==='1CFO'"}], "mark": {"type": "rule", "strokeWidth": 2},
         "encoding": {
           "x": {"field": "p", "type": "nominal", "bandPosition": 0.15, "scale": {"domain": ["π⁺+π⁻","K⁺+K⁻","p+p̄","Λ+Λ̄","φ","Ξ+Ξ̄","Ω+Ω̄"], "paddingInner": 0, "paddingOuter": 0}, "axis": {"title": null, "labels": false}},
           "x2": {"field": "p", "bandPosition": 0.85},
           "y": {"field": "s", "type": "quantitative", "scale": {"domain": [-7, 6.6], "nice": false, "zero": false}, "axis": {"title": "σ", "tickSize": -5, "labelPadding": 10, "values": [-5, 0, 5]}},
           "stroke": {"field": "c", "type": "nominal", "scale": {"domain": ["0-5", "20-40", "60-80"], "range": ["black", "#ff0000", "#0000ff"]}, "legend": null},
           "strokeDash": {"field": "c", "type": "nominal", "scale": {"domain": ["0-5", "20-40", "60-80"], "range": [[1, 0], [4, 2], [1.5, 1.5]]}, "legend": null}}}
      ]
    },
    {
      "width": 188, "height": 46,
      "layer": [
        {"data": {"values": [{"v": 1}, {"v": -1}]}, "mark": {"type": "rule", "color": "#666666", "strokeDash": [4, 3], "strokeWidth": 1},
         "encoding": {"y": {"field": "v", "type": "quantitative", "scale": {"domain": [-7, 6.6], "nice": false, "zero": false}, "axis": {"title": null, "labels": false, "values": [-5, 0, 5]}}}},
        {"data": {"name": "ppbm"}, "transform": [{"filter": "datum.m==='1CFOg'"}], "mark": {"type": "rule", "strokeWidth": 2},
         "encoding": {
           "x": {"field": "p", "type": "nominal", "bandPosition": 0.15, "scale": {"domain": ["π⁺+π⁻","K⁺+K⁻","p+p̄","Λ+Λ̄","φ","Ξ+Ξ̄","Ω+Ω̄"], "paddingInner": 0, "paddingOuter": 0}, "axis": {"title": null, "labels": false}},
           "x2": {"field": "p", "bandPosition": 0.85},
           "y": {"field": "s", "type": "quantitative", "scale": {"domain": [-7, 6.6], "nice": false, "zero": false}, "axis": {"title": null, "labels": false, "values": [-5, 0, 5]}},
           "stroke": {"field": "c", "type": "nominal", "scale": {"domain": ["0-5", "20-40", "60-80"], "range": ["black", "#ff0000", "#0000ff"]}, "legend": null},
           "strokeDash": {"field": "c", "type": "nominal", "scale": {"domain": ["0-5", "20-40", "60-80"], "range": [[1, 0], [4, 2], [1.5, 1.5]]}, "legend": null}}}
      ]
    },
    {
      "width": 188, "height": 46,
      "layer": [
        {"data": {"values": [{"v": 1}, {"v": -1}]}, "mark": {"type": "rule", "color": "#666666", "strokeDash": [4, 3], "strokeWidth": 1},
         "encoding": {"y": {"field": "v", "type": "quantitative", "scale": {"domain": [-7, 6.6], "nice": false, "zero": false}, "axis": {"title": null, "labels": false, "values": [-5, 0, 5]}}}},
        {"data": {"name": "ppbm"}, "transform": [{"filter": "datum.m==='2CFO'"}], "mark": {"type": "rule", "strokeWidth": 2},
         "encoding": {
           "x": {"field": "p", "type": "nominal", "bandPosition": 0.15, "scale": {"domain": ["π⁺+π⁻","K⁺+K⁻","p+p̄","Λ+Λ̄","φ","Ξ+Ξ̄","Ω+Ω̄"], "paddingInner": 0, "paddingOuter": 0}, "axis": {"title": null, "labels": false}},
           "x2": {"field": "p", "bandPosition": 0.85},
           "y": {"field": "s", "type": "quantitative", "scale": {"domain": [-7, 6.6], "nice": false, "zero": false}, "axis": {"title": null, "labels": false, "values": [-5, 0, 5]}},
           "stroke": {"field": "c", "type": "nominal", "scale": {"domain": ["0-5", "20-40", "60-80"], "range": ["black", "#ff0000", "#0000ff"]}, "legend": null},
           "strokeDash": {"field": "c", "type": "nominal", "scale": {"domain": ["0-5", "20-40", "60-80"], "range": [[1, 0], [4, 2], [1.5, 1.5]]}, "legend": null}}}
      ]
    },
    {
      "width": 188, "height": 91,
      "layer": [
        {"data": {"name": "pbm"}, "transform": [{"filter": "datum.m==='1CFO'"}], "mark": {"type": "rule", "strokeWidth": 2},
         "encoding": {
           "x": {"field": "p", "type": "nominal", "bandPosition": 0.15, "scale": {"domain": ["π⁺+π⁻","K⁺+K⁻","p+p̄","Λ+Λ̄","φ","Ξ+Ξ̄","Ω+Ω̄"], "paddingInner": 0, "paddingOuter": 0}, "axis": {"title": null, "labels": false}},
           "x2": {"field": "p", "bandPosition": 0.85},
           "y": {"field": "y", "type": "quantitative", "scale": {"type": "log", "domain": [0.0187, 2240], "nice": false}, "axis": {"title": "Yield", "tickSize": -5, "labelPadding": 10, "values": [0.1, 1, 10, 100, 1000], "labelExpr": "datum.value>=999?'10³':datum.value>=99?'10²':datum.value>=9?'10':datum.value>=0.9?'1':datum.value>=0.09?'10⁻¹':datum.value>=0.009?'10⁻²':'10⁻³'"}},
           "stroke": {"field": "c", "type": "nominal", "scale": {"domain": ["0-10", "20-40", "60-80"], "range": ["black", "#ff0000", "#0000ff"]}, "legend": null},
           "strokeDash": {"field": "c", "type": "nominal", "scale": {"domain": ["0-10", "20-40", "60-80"], "range": [[1, 0], [4, 2], [1.5, 1.5]]}, "legend": null}}},
        {"data": {"name": "pbd"}, "mark": {"type": "point", "filled": true, "size": 60, "opacity": 1, "strokeWidth": 0},
         "encoding": {
           "x": {"field": "p", "type": "nominal", "scale": {"domain": ["π⁺+π⁻","K⁺+K⁻","p+p̄","Λ+Λ̄","φ","Ξ+Ξ̄","Ω+Ω̄"], "paddingInner": 0, "paddingOuter": 0}, "axis": {"title": null, "labels": false}},
           "y": {"field": "y", "type": "quantitative", "scale": {"type": "log", "domain": [0.0187, 2240], "nice": false}, "axis": {"title": "Yield", "tickSize": -5, "labelPadding": 10, "values": [0.1, 1, 10, 100, 1000], "labelExpr": "datum.value>=999?'10³':datum.value>=99?'10²':datum.value>=9?'10':datum.value>=0.9?'1':datum.value>=0.09?'10⁻¹':datum.value>=0.009?'10⁻²':'10⁻³'"}},
           "fill": {"field": "c", "type": "nominal", "scale": {"domain": ["0-10", "20-40", "60-80"], "range": ["black", "#ff0000", "#0000ff"]}, "legend": null},
           "shape": {"field": "c", "type": "nominal", "scale": {"domain": ["0-10", "20-40", "60-80"], "range": ["square", "M0,-1L0.235,-0.324L0.951,-0.309L0.38,0.124L0.588,0.809L0,0.4L-0.588,0.809L-0.38,0.124L-0.951,-0.309L-0.235,-0.324Z", "cross"]}, "legend": null}}},
        {"data": {"values": [{}]}, "mark": {"type": "text", "text": "Data", "align": "left", "baseline": "middle", "fontSize": 11, "dx": -3},
         "encoding": {
           "x": {"datum": "π⁺+π⁻", "type": "nominal", "scale": {"domain": ["π⁺+π⁻","K⁺+K⁻","p+p̄","Λ+Λ̄","φ","Ξ+Ξ̄","Ω+Ω̄"], "paddingInner": 0, "paddingOuter": 0}, "axis": {"title": null, "labels": false}},
           "y": {"datum": 0.528, "type": "quantitative", "scale": {"type": "log", "domain": [0.0187, 2240], "nice": false}, "axis": {"title": "Yield", "tickSize": -5, "labelPadding": 10, "values": [0.1, 1, 10, 100, 1000], "labelExpr": "datum.value>=999?'10³':datum.value>=99?'10²':datum.value>=9?'10':datum.value>=0.9?'1':datum.value>=0.09?'10⁻¹':datum.value>=0.009?'10⁻²':'10⁻³'"}}}},
        {"data": {"values": [{}]}, "mark": {"type": "point", "shape": "square", "filled": true, "color": "black", "size": 60, "opacity": 1, "xOffset": 0},
         "encoding": {
           "x": {"datum": "π⁺+π⁻", "type": "nominal", "scale": {"domain": ["π⁺+π⁻","K⁺+K⁻","p+p̄","Λ+Λ̄","φ","Ξ+Ξ̄","Ω+Ω̄"], "paddingInner": 0, "paddingOuter": 0}, "axis": {"title": null, "labels": false}},
           "y": {"datum": 0.0676, "type": "quantitative", "scale": {"type": "log", "domain": [0.0187, 2240], "nice": false}, "axis": {"title": "Yield", "tickSize": -5, "labelPadding": 10, "values": [0.1, 1, 10, 100, 1000], "labelExpr": "datum.value>=999?'10³':datum.value>=99?'10²':datum.value>=9?'10':datum.value>=0.9?'1':datum.value>=0.09?'10⁻¹':datum.value>=0.009?'10⁻²':'10⁻³'"}}}},
        {"data": {"values": [{}]}, "mark": {"type": "text", "text": "0-10", "align": "left", "baseline": "middle", "fontSize": 11, "dx": 4.5},
         "encoding": {
           "x": {"datum": "π⁺+π⁻", "type": "nominal", "scale": {"domain": ["π⁺+π⁻","K⁺+K⁻","p+p̄","Λ+Λ̄","φ","Ξ+Ξ̄","Ω+Ω̄"], "paddingInner": 0, "paddingOuter": 0}, "axis": {"title": null, "labels": false}},
           "y": {"datum": 0.0676, "type": "quantitative", "scale": {"type": "log", "domain": [0.0187, 2240], "nice": false}, "axis": {"title": "Yield", "tickSize": -5, "labelPadding": 10, "values": [0.1, 1, 10, 100, 1000], "labelExpr": "datum.value>=999?'10³':datum.value>=99?'10²':datum.value>=9?'10':datum.value>=0.9?'1':datum.value>=0.09?'10⁻¹':datum.value>=0.009?'10⁻²':'10⁻³'"}}}},
        {"data": {"values": [{}]}, "mark": {"type": "point", "shape": "M0,-1L0.235,-0.324L0.951,-0.309L0.38,0.124L0.588,0.809L0,0.4L-0.588,0.809L-0.38,0.124L-0.951,-0.309L-0.235,-0.324Z", "filled": true, "color": "#ff0000", "size": 60, "opacity": 1, "xOffset": 14.7},
         "encoding": {
           "x": {"datum": "K⁺+K⁻", "type": "nominal", "scale": {"domain": ["π⁺+π⁻","K⁺+K⁻","p+p̄","Λ+Λ̄","φ","Ξ+Ξ̄","Ω+Ω̄"], "paddingInner": 0, "paddingOuter": 0}, "axis": {"title": null, "labels": false}},
           "y": {"datum": 0.0676, "type": "quantitative", "scale": {"type": "log", "domain": [0.0187, 2240], "nice": false}, "axis": {"title": "Yield", "tickSize": -5, "labelPadding": 10, "values": [0.1, 1, 10, 100, 1000], "labelExpr": "datum.value>=999?'10³':datum.value>=99?'10²':datum.value>=9?'10':datum.value>=0.9?'1':datum.value>=0.09?'10⁻¹':datum.value>=0.009?'10⁻²':'10⁻³'"}}}},
        {"data": {"values": [{}]}, "mark": {"type": "text", "text": "20-40", "align": "left", "baseline": "middle", "fontSize": 11, "dx": 18.5},
         "encoding": {
           "x": {"datum": "K⁺+K⁻", "type": "nominal", "scale": {"domain": ["π⁺+π⁻","K⁺+K⁻","p+p̄","Λ+Λ̄","φ","Ξ+Ξ̄","Ω+Ω̄"], "paddingInner": 0, "paddingOuter": 0}, "axis": {"title": null, "labels": false}},
           "y": {"datum": 0.0676, "type": "quantitative", "scale": {"type": "log", "domain": [0.0187, 2240], "nice": false}, "axis": {"title": "Yield", "tickSize": -5, "labelPadding": 10, "values": [0.1, 1, 10, 100, 1000], "labelExpr": "datum.value>=999?'10³':datum.value>=99?'10²':datum.value>=9?'10':datum.value>=0.9?'1':datum.value>=0.09?'10⁻¹':datum.value>=0.009?'10⁻²':'10⁻³'"}}}},
        {"data": {"values": [{}]}, "mark": {"type": "point", "shape": "cross", "filled": true, "color": "#0000ff", "size": 60, "opacity": 1, "xOffset": 7},
         "encoding": {
           "x": {"datum": "Λ+Λ̄", "type": "nominal", "scale": {"domain": ["π⁺+π⁻","K⁺+K⁻","p+p̄","Λ+Λ̄","φ","Ξ+Ξ̄","Ω+Ω̄"], "paddingInner": 0, "paddingOuter": 0}, "axis": {"title": null, "labels": false}},
           "y": {"datum": 0.0676, "type": "quantitative", "scale": {"type": "log", "domain": [0.0187, 2240], "nice": false}, "axis": {"title": "Yield", "tickSize": -5, "labelPadding": 10, "values": [0.1, 1, 10, 100, 1000], "labelExpr": "datum.value>=999?'10³':datum.value>=99?'10²':datum.value>=9?'10':datum.value>=0.9?'1':datum.value>=0.09?'10⁻¹':datum.value>=0.009?'10⁻²':'10⁻³'"}}}},
        {"data": {"values": [{}]}, "mark": {"type": "text", "text": "60-80", "align": "left", "baseline": "middle", "fontSize": 11, "dx": 11},
         "encoding": {
           "x": {"datum": "Λ+Λ̄", "type": "nominal", "scale": {"domain": ["π⁺+π⁻","K⁺+K⁻","p+p̄","Λ+Λ̄","φ","Ξ+Ξ̄","Ω+Ω̄"], "paddingInner": 0, "paddingOuter": 0}, "axis": {"title": null, "labels": false}},
           "y": {"datum": 0.0676, "type": "quantitative", "scale": {"type": "log", "domain": [0.0187, 2240], "nice": false}, "axis": {"title": "Yield", "tickSize": -5, "labelPadding": 10, "values": [0.1, 1, 10, 100, 1000], "labelExpr": "datum.value>=999?'10³':datum.value>=99?'10²':datum.value>=9?'10':datum.value>=0.9?'1':datum.value>=0.09?'10⁻¹':datum.value>=0.009?'10⁻²':'10⁻³'"}}}}
      ]
    },
    {
      "width": 188, "height": 91,
      "layer": [
        {"data": {"name": "pbm"}, "transform": [{"filter": "datum.m==='1CFOg'"}], "mark": {"type": "rule", "strokeWidth": 2},
         "encoding": {
           "x": {"field": "p", "type": "nominal", "bandPosition": 0.15, "scale": {"domain": ["π⁺+π⁻","K⁺+K⁻","p+p̄","Λ+Λ̄","φ","Ξ+Ξ̄","Ω+Ω̄"], "paddingInner": 0, "paddingOuter": 0}, "axis": {"title": null, "labels": false}},
           "x2": {"field": "p", "bandPosition": 0.85},
           "y": {"field": "y", "type": "quantitative", "scale": {"type": "log", "domain": [0.0187, 2240], "nice": false}, "axis": {"title": null, "labels": false, "values": [0.1, 1, 10, 100, 1000]}},
           "stroke": {"field": "c", "type": "nominal", "scale": {"domain": ["0-10", "20-40", "60-80"], "range": ["black", "#ff0000", "#0000ff"]}, "legend": null},
           "strokeDash": {"field": "c", "type": "nominal", "scale": {"domain": ["0-10", "20-40", "60-80"], "range": [[1, 0], [4, 2], [1.5, 1.5]]}, "legend": null}}},
        {"data": {"name": "pbd"}, "mark": {"type": "point", "filled": true, "size": 60, "opacity": 1, "strokeWidth": 0},
         "encoding": {
           "x": {"field": "p", "type": "nominal", "scale": {"domain": ["π⁺+π⁻","K⁺+K⁻","p+p̄","Λ+Λ̄","φ","Ξ+Ξ̄","Ω+Ω̄"], "paddingInner": 0, "paddingOuter": 0}, "axis": {"title": null, "labels": false}},
           "y": {"field": "y", "type": "quantitative", "scale": {"type": "log", "domain": [0.0187, 2240], "nice": false}, "axis": {"title": null, "labels": false, "values": [0.1, 1, 10, 100, 1000]}},
           "fill": {"field": "c", "type": "nominal", "scale": {"domain": ["0-10", "20-40", "60-80"], "range": ["black", "#ff0000", "#0000ff"]}, "legend": null},
           "shape": {"field": "c", "type": "nominal", "scale": {"domain": ["0-10", "20-40", "60-80"], "range": ["square", "M0,-1L0.235,-0.324L0.951,-0.309L0.38,0.124L0.588,0.809L0,0.4L-0.588,0.809L-0.38,0.124L-0.951,-0.309L-0.235,-0.324Z", "cross"]}, "legend": null}}},
        {"data": {"values": [{}]}, "mark": {"type": "text", "text": "Model", "align": "left", "baseline": "middle", "fontSize": 11, "dx": -1.4},
         "encoding": {
           "x": {"datum": "π⁺+π⁻", "type": "nominal", "scale": {"domain": ["π⁺+π⁻","K⁺+K⁻","p+p̄","Λ+Λ̄","φ","Ξ+Ξ̄","Ω+Ω̄"], "paddingInner": 0, "paddingOuter": 0}, "axis": {"title": null, "labels": false}},
           "y": {"datum": 0.528, "type": "quantitative", "scale": {"type": "log", "domain": [0.0187, 2240], "nice": false}, "axis": {"title": null, "labels": false, "values": [0.1, 1, 10, 100, 1000]}}}},
        {"data": {"values": [{}]}, "mark": {"type": "point", "shape": "stroke", "filled": false, "stroke": "black", "strokeWidth": 2, "size": 400, "opacity": 1, "xOffset": 6.6},
         "encoding": {
           "x": {"datum": "π⁺+π⁻", "type": "nominal", "scale": {"domain": ["π⁺+π⁻","K⁺+K⁻","p+p̄","Λ+Λ̄","φ","Ξ+Ξ̄","Ω+Ω̄"], "paddingInner": 0, "paddingOuter": 0}, "axis": {"title": null, "labels": false}},
           "y": {"datum": 0.0676, "type": "quantitative", "scale": {"type": "log", "domain": [0.0187, 2240], "nice": false}, "axis": {"title": null, "labels": false, "values": [0.1, 1, 10, 100, 1000]}}}},
        {"data": {"values": [{}]}, "mark": {"type": "text", "text": "0-10", "align": "left", "baseline": "middle", "fontSize": 11, "dx": 18.6},
         "encoding": {
           "x": {"datum": "π⁺+π⁻", "type": "nominal", "scale": {"domain": ["π⁺+π⁻","K⁺+K⁻","p+p̄","Λ+Λ̄","φ","Ξ+Ξ̄","Ω+Ω̄"], "paddingInner": 0, "paddingOuter": 0}, "axis": {"title": null, "labels": false}},
           "y": {"datum": 0.0676, "type": "quantitative", "scale": {"type": "log", "domain": [0.0187, 2240], "nice": false}, "axis": {"title": null, "labels": false, "values": [0.1, 1, 10, 100, 1000]}}}},
        {"data": {"values": [{}]}, "mark": {"type": "point", "shape": "stroke", "filled": false, "stroke": "#ff0000", "strokeDash": [4, 2], "strokeWidth": 2, "size": 256, "opacity": 1, "xOffset": -2.6},
         "encoding": {
           "x": {"datum": "p+p̄", "type": "nominal", "scale": {"domain": ["π⁺+π⁻","K⁺+K⁻","p+p̄","Λ+Λ̄","φ","Ξ+Ξ̄","Ω+Ω̄"], "paddingInner": 0, "paddingOuter": 0}, "axis": {"title": null, "labels": false}},
           "y": {"datum": 0.0676, "type": "quantitative", "scale": {"type": "log", "domain": [0.0187, 2240], "nice": false}, "axis": {"title": null, "labels": false, "values": [0.1, 1, 10, 100, 1000]}}}},
        {"data": {"values": [{}]}, "mark": {"type": "text", "text": "20-40", "align": "left", "baseline": "middle", "fontSize": 11, "dx": 6.9},
         "encoding": {
           "x": {"datum": "p+p̄", "type": "nominal", "scale": {"domain": ["π⁺+π⁻","K⁺+K⁻","p+p̄","Λ+Λ̄","φ","Ξ+Ξ̄","Ω+Ω̄"], "paddingInner": 0, "paddingOuter": 0}, "axis": {"title": null, "labels": false}},
           "y": {"datum": 0.0676, "type": "quantitative", "scale": {"type": "log", "domain": [0.0187, 2240], "nice": false}, "axis": {"title": null, "labels": false, "values": [0.1, 1, 10, 100, 1000]}}}},
        {"data": {"values": [{}]}, "mark": {"type": "point", "shape": "stroke", "filled": false, "stroke": "#0000ff", "strokeDash": [1.5, 1.5], "strokeWidth": 2, "size": 256, "opacity": 1, "xOffset": -11.9},
         "encoding": {
           "x": {"datum": "φ", "type": "nominal", "scale": {"domain": ["π⁺+π⁻","K⁺+K⁻","p+p̄","Λ+Λ̄","φ","Ξ+Ξ̄","Ω+Ω̄"], "paddingInner": 0, "paddingOuter": 0}, "axis": {"title": null, "labels": false}},
           "y": {"datum": 0.0676, "type": "quantitative", "scale": {"type": "log", "domain": [0.0187, 2240], "nice": false}, "axis": {"title": null, "labels": false, "values": [0.1, 1, 10, 100, 1000]}}}},
        {"data": {"values": [{}]}, "mark": {"type": "text", "text": "60-80", "align": "left", "baseline": "middle", "fontSize": 11, "dx": -2.9},
         "encoding": {
           "x": {"datum": "φ", "type": "nominal", "scale": {"domain": ["π⁺+π⁻","K⁺+K⁻","p+p̄","Λ+Λ̄","φ","Ξ+Ξ̄","Ω+Ω̄"], "paddingInner": 0, "paddingOuter": 0}, "axis": {"title": null, "labels": false}},
           "y": {"datum": 0.0676, "type": "quantitative", "scale": {"type": "log", "domain": [0.0187, 2240], "nice": false}, "axis": {"title": null, "labels": false, "values": [0.1, 1, 10, 100, 1000]}}}}
      ]
    },
    {
      "width": 188, "height": 91,
      "layer": [
        {"data": {"name": "pbm"}, "transform": [{"filter": "datum.m==='2CFO'"}], "mark": {"type": "rule", "strokeWidth": 2},
         "encoding": {
           "x": {"field": "p", "type": "nominal", "bandPosition": 0.15, "scale": {"domain": ["π⁺+π⁻","K⁺+K⁻","p+p̄","Λ+Λ̄","φ","Ξ+Ξ̄","Ω+Ω̄"], "paddingInner": 0, "paddingOuter": 0}, "axis": {"title": null, "labels": false}},
           "x2": {"field": "p", "bandPosition": 0.85},
           "y": {"field": "y", "type": "quantitative", "scale": {"type": "log", "domain": [0.0187, 2240], "nice": false}, "axis": {"title": null, "labels": false, "values": [0.1, 1, 10, 100, 1000]}},
           "stroke": {"field": "c", "type": "nominal", "scale": {"domain": ["0-10", "20-40", "60-80"], "range": ["black", "#ff0000", "#0000ff"]}, "legend": null},
           "strokeDash": {"field": "c", "type": "nominal", "scale": {"domain": ["0-10", "20-40", "60-80"], "range": [[1, 0], [4, 2], [1.5, 1.5]]}, "legend": null}}},
        {"data": {"name": "pbd"}, "mark": {"type": "point", "filled": true, "size": 60, "opacity": 1, "strokeWidth": 0},
         "encoding": {
           "x": {"field": "p", "type": "nominal", "scale": {"domain": ["π⁺+π⁻","K⁺+K⁻","p+p̄","Λ+Λ̄","φ","Ξ+Ξ̄","Ω+Ω̄"], "paddingInner": 0, "paddingOuter": 0}, "axis": {"title": null, "labels": false}},
           "y": {"field": "y", "type": "quantitative", "scale": {"type": "log", "domain": [0.0187, 2240], "nice": false}, "axis": {"title": null, "labels": false, "values": [0.1, 1, 10, 100, 1000]}},
           "fill": {"field": "c", "type": "nominal", "scale": {"domain": ["0-10", "20-40", "60-80"], "range": ["black", "#ff0000", "#0000ff"]}, "legend": null},
           "shape": {"field": "c", "type": "nominal", "scale": {"domain": ["0-10", "20-40", "60-80"], "range": ["square", "M0,-1L0.235,-0.324L0.951,-0.309L0.38,0.124L0.588,0.809L0,0.4L-0.588,0.809L-0.38,0.124L-0.951,-0.309L-0.235,-0.324Z", "cross"]}, "legend": null}}},
        {"data": {"values": [{}]}, "mark": {"type": "text", "text": "Pb-Pb,√s", "align": "left", "baseline": "middle", "fontSize": 12.5, "dx": 2},
         "encoding": {
           "x": {"datum": "π⁺+π⁻", "type": "nominal", "scale": {"domain": ["π⁺+π⁻","K⁺+K⁻","p+p̄","Λ+Λ̄","φ","Ξ+Ξ̄","Ω+Ω̄"], "paddingInner": 0, "paddingOuter": 0}, "axis": {"title": null, "labels": false}},
           "y": {"datum": 0.073, "type": "quantitative", "scale": {"type": "log", "domain": [0.0187, 2240], "nice": false}, "axis": {"title": null, "labels": false, "values": [0.1, 1, 10, 100, 1000]}}}},
        {"data": {"values": [{}]}, "mark": {"type": "text", "text": "NN", "align": "left", "baseline": "middle", "fontSize": 8, "dx": 53.5, "dy": 4},
         "encoding": {
           "x": {"datum": "π⁺+π⁻", "type": "nominal", "scale": {"domain": ["π⁺+π⁻","K⁺+K⁻","p+p̄","Λ+Λ̄","φ","Ξ+Ξ̄","Ω+Ω̄"], "paddingInner": 0, "paddingOuter": 0}, "axis": {"title": null, "labels": false}},
           "y": {"datum": 0.073, "type": "quantitative", "scale": {"type": "log", "domain": [0.0187, 2240], "nice": false}, "axis": {"title": null, "labels": false, "values": [0.1, 1, 10, 100, 1000]}}}},
        {"data": {"values": [{}]}, "mark": {"type": "text", "text": " = 2.76 TeV", "align": "left", "baseline": "middle", "fontSize": 12.5, "dx": 67},
         "encoding": {
           "x": {"datum": "π⁺+π⁻", "type": "nominal", "scale": {"domain": ["π⁺+π⁻","K⁺+K⁻","p+p̄","Λ+Λ̄","φ","Ξ+Ξ̄","Ω+Ω̄"], "paddingInner": 0, "paddingOuter": 0}, "axis": {"title": null, "labels": false}},
           "y": {"datum": 0.073, "type": "quantitative", "scale": {"type": "log", "domain": [0.0187, 2240], "nice": false}, "axis": {"title": null, "labels": false, "values": [0.1, 1, 10, 100, 1000]}}}}
      ]
    },
    {
      "width": 188, "height": 45,
      "layer": [
        {"data": {"values": [{"v": 1}, {"v": -1}]}, "mark": {"type": "rule", "color": "#666666", "strokeDash": [4, 3], "strokeWidth": 1},
         "encoding": {"y": {"field": "v", "type": "quantitative", "scale": {"domain": [-6.4, 6.5], "nice": false, "zero": false}, "axis": {"title": "σ", "tickSize": -5, "labelPadding": 10, "values": [-5, 0, 5]}}}},
        {"data": {"name": "pbm"}, "transform": [{"filter": "datum.m==='1CFO'"}], "mark": {"type": "rule", "strokeWidth": 2},
         "encoding": {
           "x": {"field": "p", "type": "nominal", "bandPosition": 0.15, "scale": {"domain": ["π⁺+π⁻","K⁺+K⁻","p+p̄","Λ+Λ̄","φ","Ξ+Ξ̄","Ω+Ω̄"], "paddingInner": 0, "paddingOuter": 0}, "axis": {"title": null}},
           "x2": {"field": "p", "bandPosition": 0.85},
           "y": {"field": "s", "type": "quantitative", "scale": {"domain": [-6.4, 6.5], "nice": false, "zero": false}, "axis": {"title": "σ", "tickSize": -5, "labelPadding": 10, "values": [-5, 0, 5]}},
           "stroke": {"field": "c", "type": "nominal", "scale": {"domain": ["0-10", "20-40", "60-80"], "range": ["black", "#ff0000", "#0000ff"]}, "legend": null},
           "strokeDash": {"field": "c", "type": "nominal", "scale": {"domain": ["0-10", "20-40", "60-80"], "range": [[1, 0], [4, 2], [1.5, 1.5]]}, "legend": null}}}
      ]
    },
    {
      "width": 188, "height": 45,
      "layer": [
        {"data": {"values": [{"v": 1}, {"v": -1}]}, "mark": {"type": "rule", "color": "#666666", "strokeDash": [4, 3], "strokeWidth": 1},
         "encoding": {"y": {"field": "v", "type": "quantitative", "scale": {"domain": [-6.4, 6.5], "nice": false, "zero": false}, "axis": {"title": null, "labels": false, "values": [-5, 0, 5]}}}},
        {"data": {"name": "pbm"}, "transform": [{"filter": "datum.m==='1CFOg'"}], "mark": {"type": "rule", "strokeWidth": 2},
         "encoding": {
           "x": {"field": "p", "type": "nominal", "bandPosition": 0.15, "scale": {"domain": ["π⁺+π⁻","K⁺+K⁻","p+p̄","Λ+Λ̄","φ","Ξ+Ξ̄","Ω+Ω̄"], "paddingInner": 0, "paddingOuter": 0}, "axis": {"title": null}},
           "x2": {"field": "p", "bandPosition": 0.85},
           "y": {"field": "s", "type": "quantitative", "scale": {"domain": [-6.4, 6.5], "nice": false, "zero": false}, "axis": {"title": null, "labels": false, "values": [-5, 0, 5]}},
           "stroke": {"field": "c", "type": "nominal", "scale": {"domain": ["0-10", "20-40", "60-80"], "range": ["black", "#ff0000", "#0000ff"]}, "legend": null},
           "strokeDash": {"field": "c", "type": "nominal", "scale": {"domain": ["0-10", "20-40", "60-80"], "range": [[1, 0], [4, 2], [1.5, 1.5]]}, "legend": null}}}
      ]
    },
    {
      "width": 188, "height": 45,
      "layer": [
        {"data": {"values": [{"v": 1}, {"v": -1}]}, "mark": {"type": "rule", "color": "#666666", "strokeDash": [4, 3], "strokeWidth": 1},
         "encoding": {"y": {"field": "v", "type": "quantitative", "scale": {"domain": [-6.4, 6.5], "nice": false, "zero": false}, "axis": {"title": null, "labels": false, "values": [-5, 0, 5]}}}},
        {"data": {"name": "pbm"}, "transform": [{"filter": "datum.m==='2CFO'"}], "mark": {"type": "rule", "strokeWidth": 2},
         "encoding": {
           "x": {"field": "p", "type": "nominal", "bandPosition": 0.15, "scale": {"domain": ["π⁺+π⁻","K⁺+K⁻","p+p̄","Λ+Λ̄","φ","Ξ+Ξ̄","Ω+Ω̄"], "paddingInner": 0, "paddingOuter": 0}, "axis": {"title": null}},
           "x2": {"field": "p", "bandPosition": 0.85},
           "y": {"field": "s", "type": "quantitative", "scale": {"domain": [-6.4, 6.5], "nice": false, "zero": false}, "axis": {"title": null, "labels": false, "values": [-5, 0, 5]}},
           "stroke": {"field": "c", "type": "nominal", "scale": {"domain": ["0-10", "20-40", "60-80"], "range": ["black", "#ff0000", "#0000ff"]}, "legend": null},
           "strokeDash": {"field": "c", "type": "nominal", "scale": {"domain": ["0-10", "20-40", "60-80"], "range": [[1, 0], [4, 2], [1.5, 1.5]]}, "legend": null}}}
      ]
    }
  ],
  "config": {
    "font": "Liberation Sans",
    "view": {"stroke": "black", "strokeWidth": 2},
    "axis": {"grid": false, "domain": false, "tickColor": "black", "tickSize": 4, "tickWidth": 1.2, "labelColor": "black", "titleColor": "black", "labelFont": "Liberation Sans", "titleFont": "Liberation Sans", "titleFontWeight": "normal"},
    "axisX": {"tickBand": "extent", "bandPosition": 0.5, "labelAngle": -90, "labelFontSize": 15, "labelPadding": 3},
    "axisY": {"labelFontSize": 11, "titleFontSize": 19, "labelPadding": 3, "minExtent": 30, "maxExtent": 30, "titlePadding": 3},
    "text": {"font": "Liberation Sans", "color": "black"}
  }
}
